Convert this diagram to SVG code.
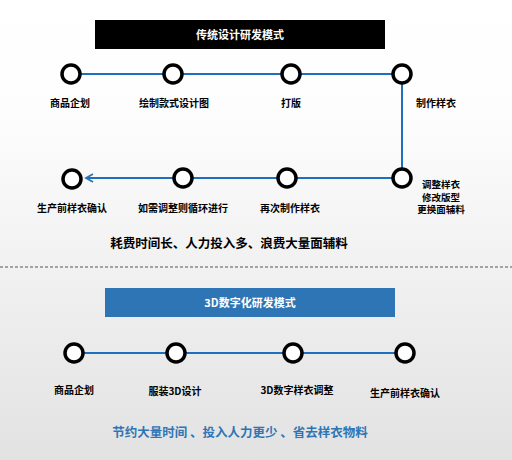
<svg xmlns="http://www.w3.org/2000/svg" width="512" height="460" viewBox="0 0 512 460">
<defs>
<linearGradient id="bg" x1="0" y1="0" x2="0" y2="1">
<stop offset="0" stop-color="#ffffff"/>
<stop offset="0.25" stop-color="#fdfdfd"/>
<stop offset="1" stop-color="#e2e2e2"/>
</linearGradient>
<marker id="arr" markerWidth="10" markerHeight="10" refX="8" refY="5" orient="auto" markerUnits="userSpaceOnUse">
<path d="M1,1 L8,5 L1,9" fill="none" stroke="#2e75b6" stroke-width="1.8"/>
</marker>
<style>
.n{fill:#fff;stroke:#000;stroke-width:3.5}
.l{font-family:"Noto Sans CJK SC","Liberation Sans",sans-serif;font-size:10px;font-weight:bold;fill:#000;text-anchor:middle}
.m{font-size:9.5px}
.t{font-family:"Noto Sans CJK SC","Liberation Sans",sans-serif;font-size:11px;font-weight:bold;fill:#fff;text-anchor:middle}
.c{fill:none;stroke:#1f6fbf;stroke-width:2}
.s{font-family:"Noto Sans CJK SC","Liberation Sans",sans-serif;font-size:12.5px;font-weight:bold;text-anchor:middle}
</style>
</defs>
<rect x="0" y="0" width="512" height="460" fill="url(#bg)"/>
<line x1="0" y1="267" x2="512" y2="267" stroke="#555" stroke-width="1" stroke-dasharray="3,2"/>
<g id="title1"><rect x="95" y="20" width="290" height="29" fill="#000"/><text class="t" x="240" y="39">传统设计研发模式</text></g>
<g id="title2"><rect x="105" y="288" width="290" height="29" fill="#2e75b6"/><text class="t" x="250" y="307">3D数字化研发模式</text></g>
<g id="connectors">
<path class="c" d="M71,74 H402 V178 H86" marker-end="url(#arr)"/>
<line class="c" x1="74" y1="353" x2="405" y2="353" stroke="#2e75b6"/>
</g>
<g id="a1"><circle class="n" cx="71" cy="74" r="9"/><text class="l" x="70" y="107">商品企划</text></g>
<g id="a2"><circle class="n" cx="173" cy="74" r="9"/><text class="l" x="174" y="107">绘制款式设计图</text></g>
<g id="a3"><circle class="n" cx="291" cy="74" r="9"/><text class="l" x="291" y="107">打版</text></g>
<g id="a4"><circle class="n" cx="402" cy="74" r="9"/><text class="l" x="436" y="107">制作样衣</text></g>
<g id="b4"><circle class="n" cx="402" cy="178" r="9"/><text class="l m" x="441" y="188">调整样衣</text><text class="l m" x="441" y="200.5">修改版型</text><text class="l m" x="441" y="213">更换面辅料</text></g>
<g id="b3"><circle class="n" cx="287" cy="178" r="9"/><text class="l" x="290" y="212">再次制作样衣</text></g>
<g id="b2"><circle class="n" cx="183" cy="178" r="9"/><text class="l" x="183" y="212">如需调整则循环进行</text></g>
<g id="b1"><circle class="n" cx="72" cy="179" r="9"/><text class="l" x="72" y="212">生产前样衣确认</text></g>
<text class="s" x="229" y="248" fill="#000">耗费时间长、人力投入多、浪费大量面辅料</text>
<g id="c1"><circle class="n" cx="74" cy="353" r="9"/><text class="l" x="74" y="394">商品企划</text></g>
<g id="c2"><circle class="n" cx="176" cy="353" r="9"/><text class="l" x="175" y="395">服装3D设计</text></g>
<g id="c3"><circle class="n" cx="293" cy="353" r="9"/><text class="l" x="297" y="394">3D数字样衣调整</text></g>
<g id="c4"><circle class="n" cx="405" cy="353" r="9"/><text class="l" x="405" y="397">生产前样衣确认</text></g>
<text class="s" x="240" y="437" fill="#2e75b6">节约大量时间 、投入人力更少 、省去样衣物料</text>
</svg>
